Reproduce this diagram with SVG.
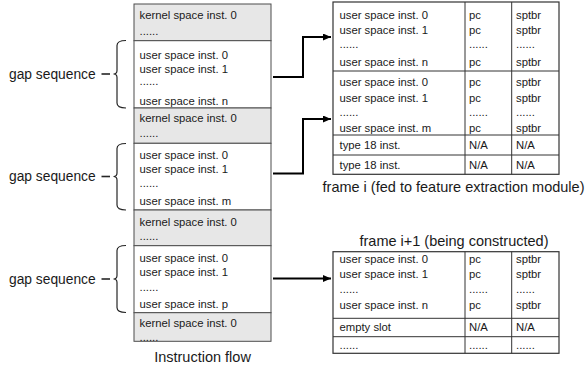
<svg xmlns="http://www.w3.org/2000/svg" width="586" height="370" viewBox="0 0 586 370">
<defs>
<style>
.t{font-family:"Liberation Sans",Arial,sans-serif;font-size:11.3px;fill:#1a1a1a}
.L{font-family:"Liberation Sans",Arial,sans-serif;font-size:14.5px;fill:#1a1a1a}
.G{font-family:"Liberation Sans",Arial,sans-serif;font-size:13.8px;fill:#1a1a1a}
.k{fill:#e7e7e7;stroke:#4d4d4d;stroke-width:1}
.u{fill:#ffffff;stroke:#4d4d4d;stroke-width:1}
.tb{fill:#ffffff;stroke:#333333;stroke-width:1.2}
.ln{stroke:#333333;stroke-width:1;fill:none}
.br{fill:none;stroke:#262626;stroke-width:1.2}
.dash{stroke:#262626;stroke-width:1.6}
.c{fill:none;stroke:#000000;stroke-width:2}
</style>
<marker id="ah" markerUnits="userSpaceOnUse" markerWidth="8" markerHeight="7" refX="8" refY="3.5" orient="auto">
<path d="M0,0 L8,3.5 L0,7 z" fill="#000000"/>
</marker>
</defs>
<rect width="586" height="370" fill="#ffffff"/>

<g id="instruction-flow">
<g id="k1"><rect class="k" x="134" y="4" width="137" height="36.7"/>
<text class="t" x="139.5" y="19">kernel space inst. 0</text><text class="t" x="139.5" y="34.5">......</text></g>
<g id="u1"><rect class="u" x="134" y="40.7" width="137" height="67.3"/>
<text class="t" x="139.5" y="58.5">user space inst. 0</text><text class="t" x="139.5" y="72.5">user space inst. 1</text><text class="t" x="139.5" y="85">......</text><text class="t" x="139.5" y="104.5">user space inst. n</text></g>
<g id="k2"><rect class="k" x="134" y="108" width="137" height="35.3"/>
<text class="t" x="139.5" y="122">kernel space inst. 0</text><text class="t" x="139.5" y="137">......</text></g>
<g id="u2"><rect class="u" x="134" y="143.3" width="137" height="66.7"/>
<text class="t" x="139.5" y="158.5">user space inst. 0</text><text class="t" x="139.5" y="172.5">user space inst. 1</text><text class="t" x="139.5" y="187">......</text><text class="t" x="139.5" y="204.5">user space inst. m</text></g>
<g id="k3"><rect class="k" x="134" y="210" width="137" height="35.7"/>
<text class="t" x="139.5" y="226">kernel space inst. 0</text><text class="t" x="139.5" y="240">......</text></g>
<g id="u3"><rect class="u" x="134" y="245.7" width="137" height="67"/>
<text class="t" x="139.5" y="261.5">user space inst. 0</text><text class="t" x="139.5" y="276">user space inst. 1</text><text class="t" x="139.5" y="290.5">......</text><text class="t" x="139.5" y="307.5">user space inst. p</text></g>
<g id="k4"><rect class="k" x="134" y="312.7" width="137" height="28.6"/>
<text class="t" x="139.5" y="326.5">kernel space inst. 0</text><text class="t" x="139.5" y="340.5">......</text></g>
<text class="L" x="202.5" y="361.5" text-anchor="middle">Instruction flow</text>
</g>

<g id="gap1">
<path class="br" d="M126,40.5 Q117,40.5 117,45.5 L117,70.5 Q117,74 113.5,74 Q117,74 117,77.5 L117,103 Q117,108 126,108"/>
<line class="dash" x1="101.5" y1="74" x2="110" y2="74"/>
<text class="G" x="9" y="78.5">gap sequence</text>
</g>
<g id="gap2">
<path class="br" d="M126,143.5 Q117,143.5 117,148.5 L117,173 Q117,176.5 113.5,176.5 Q117,176.5 117,180 L117,205 Q117,210 126,210"/>
<line class="dash" x1="101.5" y1="176.5" x2="110" y2="176.5"/>
<text class="G" x="9" y="181">gap sequence</text>
</g>
<g id="gap3">
<path class="br" d="M126,245.5 Q117,245.5 117,250.5 L117,275.5 Q117,279 113.5,279 Q117,279 117,282.5 L117,307.5 Q117,312.5 126,312.5"/>
<line class="dash" x1="101.5" y1="279" x2="110" y2="279"/>
<text class="G" x="9" y="283.5">gap sequence</text>
</g>

<g id="frame-i">
<rect class="tb" x="333" y="2" width="226" height="172.3"/>
<line class="ln" x1="465" y1="2" x2="465" y2="174.3"/>
<line class="ln" x1="511.7" y1="2" x2="511.7" y2="174.3"/>
<line class="ln" x1="333" y1="71" x2="559" y2="71"/>
<line class="ln" x1="333" y1="135" x2="559" y2="135"/>
<line class="ln" x1="333" y1="155" x2="559" y2="155"/>
<text class="t" x="339.5" y="19">user space inst. 0</text><text class="t" x="469" y="19">pc</text><text class="t" x="516" y="19">sptbr</text>
<text class="t" x="339.5" y="34">user space inst. 1</text><text class="t" x="469" y="34">pc</text><text class="t" x="516" y="34">sptbr</text>
<text class="t" x="339.5" y="47.5">......</text><text class="t" x="469" y="47.5">......</text><text class="t" x="516" y="47.5">......</text>
<text class="t" x="339.5" y="65.5">user space inst. n</text><text class="t" x="469" y="65.5">pc</text><text class="t" x="516" y="65.5">sptbr</text>
<text class="t" x="339.5" y="86">user space inst. 0</text><text class="t" x="469" y="86">pc</text><text class="t" x="516" y="86">sptbr</text>
<text class="t" x="339.5" y="101.5">user space inst. 1</text><text class="t" x="469" y="101.5">pc</text><text class="t" x="516" y="101.5">sptbr</text>
<text class="t" x="339.5" y="116">......</text><text class="t" x="469" y="116">......</text><text class="t" x="516" y="116">......</text>
<text class="t" x="339.5" y="131.5">user space inst. m</text><text class="t" x="469" y="131.5">pc</text><text class="t" x="516" y="131.5">sptbr</text>
<text class="t" x="339.5" y="149">type 18 inst.</text><text class="t" x="469" y="149">N/A</text><text class="t" x="516" y="149">N/A</text>
<text class="t" x="339.5" y="168.5">type 18 inst.</text><text class="t" x="469" y="168.5">N/A</text><text class="t" x="516" y="168.5">N/A</text>
<text class="L" x="453.5" y="191.5" text-anchor="middle">frame i (fed to feature extraction module)</text>
</g>

<g id="frame-i1">
<text class="L" x="454" y="246" text-anchor="middle">frame i+1 (being constructed)</text>
<rect class="tb" x="333" y="251.7" width="226" height="101.6"/>
<line class="ln" x1="465" y1="251.7" x2="465" y2="353.3"/>
<line class="ln" x1="511.7" y1="251.7" x2="511.7" y2="353.3"/>
<line class="ln" x1="333" y1="318.3" x2="559" y2="318.3"/>
<line class="ln" x1="333" y1="336.7" x2="559" y2="336.7"/>
<text class="t" x="339.5" y="263.3">user space inst. 0</text><text class="t" x="469" y="263.3">pc</text><text class="t" x="516" y="263.3">sptbr</text>
<text class="t" x="339.5" y="278.3">user space inst. 1</text><text class="t" x="469" y="278.3">pc</text><text class="t" x="516" y="278.3">sptbr</text>
<text class="t" x="339.5" y="292.5">......</text><text class="t" x="469" y="292.5">......</text><text class="t" x="516" y="292.5">......</text>
<text class="t" x="339.5" y="308.5">user space inst. n</text><text class="t" x="469" y="308.5">pc</text><text class="t" x="516" y="308.5">sptbr</text>
<text class="t" x="339.5" y="331">empty slot</text><text class="t" x="469" y="331">N/A</text><text class="t" x="516" y="331">N/A</text>
<text class="t" x="339.5" y="349">......</text><text class="t" x="469" y="349">......</text><text class="t" x="516" y="349">......</text>
</g>

<g id="connectors">
<polyline class="c" points="273,77 303,77 303,37 331,37" marker-end="url(#ah)"/>
<polyline class="c" points="273,173.5 303,173.5 303,119 331,119" marker-end="url(#ah)"/>
<polyline class="c" points="273,278.5 331,278.5" marker-end="url(#ah)"/>
</g>
</svg>
